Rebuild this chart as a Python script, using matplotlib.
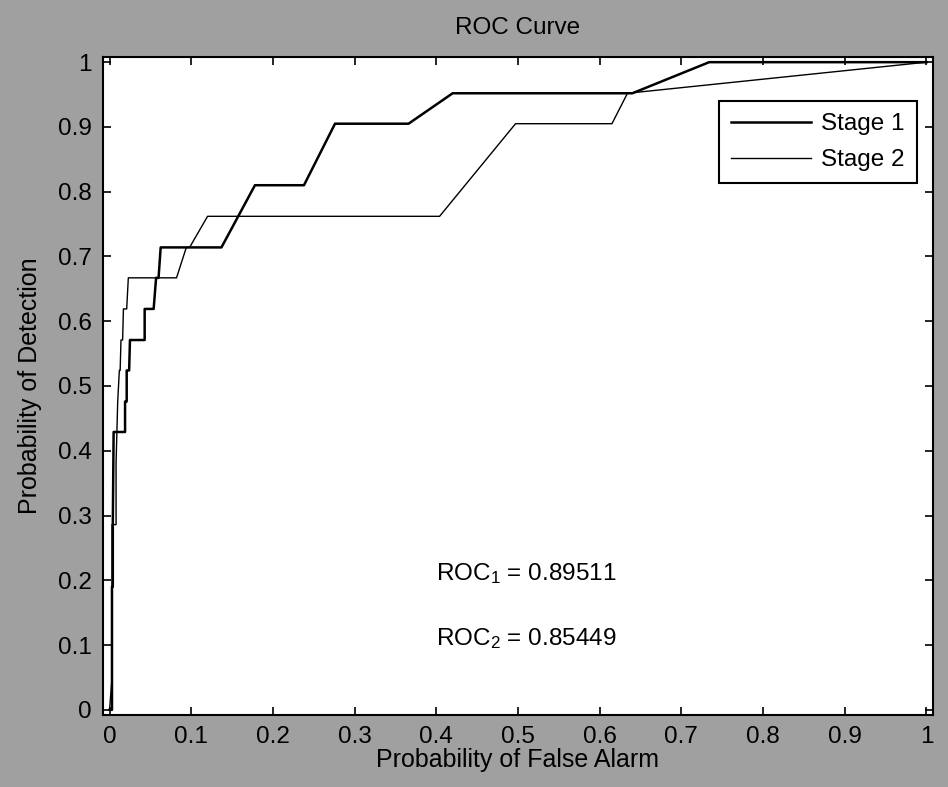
import matplotlib
matplotlib.use("Agg")
import matplotlib.pyplot as plt

plt.rcParams['font.family'] = ['Liberation Sans', 'DejaVu Sans']
plt.rcParams['mathtext.fontset'] = 'custom'
plt.rcParams['mathtext.rm'] = 'Liberation Sans'
plt.rcParams['mathtext.it'] = 'Liberation Sans:italic'

# Data
stage1_fpr = [0.0, 0.003, 0.003, 0.004, 0.004, 0.005, 0.019, 0.019, 0.021, 0.021, 0.024, 0.025,
              0.043, 0.043, 0.054, 0.057, 0.060, 0.0626, 0.137, 0.178, 0.238, 0.276, 0.366,
              0.420, 0.640, 0.734, 1.0]
stage1_tpr = [0.0, 0.0, 0.190, 0.190, 0.286, 0.429, 0.429, 0.476, 0.476, 0.524, 0.524, 0.571,
              0.571, 0.619, 0.619, 0.667, 0.667, 0.714, 0.714, 0.810, 0.810, 0.905, 0.905,
              0.952, 0.952, 1.0, 1.0]

stage2_fpr = [0.0, 0.003, 0.003, 0.008, 0.008, 0.009, 0.010, 0.012, 0.013, 0.014, 0.016, 0.017,
              0.021, 0.023, 0.082, 0.094, 0.098, 0.120, 0.404, 0.497, 0.615, 0.634, 1.0]
stage2_tpr = [0.0, 0.048, 0.286, 0.286, 0.381, 0.429, 0.476, 0.524, 0.524, 0.571, 0.571, 0.619,
              0.619, 0.667, 0.667, 0.714, 0.714, 0.762, 0.762, 0.905, 0.905, 0.952, 1.0]

series_labels = ['Stage 1', 'Stage 2']
auc_values = ['0.89511', '0.85449']
tick_values = [0, 0.1, 0.2, 0.3, 0.4, 0.5, 0.6, 0.7, 0.8, 0.9, 1]
tick_labels = ['0', '0.1', '0.2', '0.3', '0.4', '0.5', '0.6', '0.7', '0.8', '0.9', '1']

W, H = 948, 787
fig = plt.figure(figsize=(W / 100, H / 100), dpi=100, facecolor='#a0a0a0')
ax = fig.add_axes([103 / W, 1 - 715 / H, 830 / W, 658 / H])
ax.set_facecolor('white')

FS = 17.5
ax.plot(stage1_fpr, stage1_tpr, color='black', lw=1.8, label=series_labels[0])
ax.plot(stage2_fpr, stage2_tpr, color='black', lw=1.0, label=series_labels[1])

ax.set_xlim(-0.008, 1.008)
ax.set_ylim(-0.008, 1.008)
ax.set_xticks(tick_values)
ax.set_xticklabels(tick_labels)
ax.set_yticks(tick_values)
ax.set_yticklabels(tick_labels)
ax.tick_params(direction='in', top=True, right=True, length=6, width=1.2,
               labelsize=FS, pad=8, colors='black')
for s in ax.spines.values():
    s.set_linewidth(1.5)
    s.set_color('black')

ax.set_xlabel('Probability of False Alarm', fontsize=18, va='center')
ax.xaxis.set_label_coords(0.5, (715 - 760) / 658)
ax.set_ylabel('Probability of Detection', fontsize=18, va='center')
ax.yaxis.set_label_coords((30 - 103) / 830, 0.5)
ax.text(0.5, 1 + 29.5 / 658, 'ROC Curve', transform=ax.transAxes, ha='center',
        va='center', fontsize=FS)

ax.text(0.4, 0.2, r'ROC$_{1}$ = ' + auc_values[0], fontsize=FS, va='baseline', ha='left')
ax.text(0.4, 0.1, r'ROC$_{2}$ = ' + auc_values[1], fontsize=FS, va='baseline', ha='left')

leg = ax.legend(loc='upper right', bbox_to_anchor=(814 / 830, 614 / 658), borderaxespad=0,
                fontsize=FS, fancybox=False, edgecolor='black', framealpha=1,
                handlelength=3.3, handletextpad=0.42, borderpad=0.5, labelspacing=0.58)
leg.get_frame().set_linewidth(1.5)

fig.savefig('out.png', dpi=100, facecolor=fig.get_facecolor())
